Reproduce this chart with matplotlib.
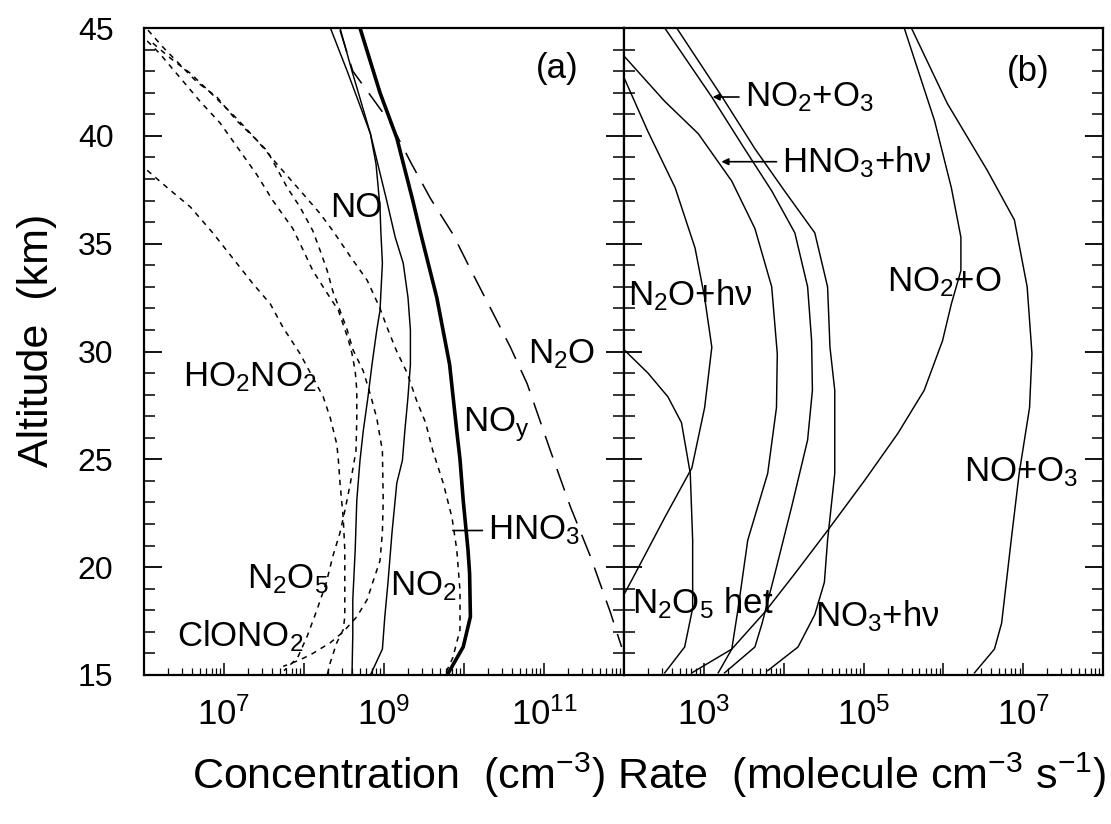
import numpy as np
import matplotlib
matplotlib.use('Agg')
import matplotlib.pyplot as plt
from matplotlib import font_manager
from matplotlib.ticker import LogLocator, MultipleLocator, NullFormatter

# %% data: altitude (km) and log10 of the value
# panel (a) concentrations, log10(cm-3)
noy_alt = [45, 42, 39.9, 37, 35.6, 32.5, 29.4, 26.3, 25, 23.1, 20.8, 19.7, 17.7, 16.3, 15]
noy_log = [8.70, 8.95, 9.16, 9.36, 9.45, 9.66, 9.82, 9.91, 9.95, 9.99, 10.05, 10.07, 10.08, 9.99, 9.79]

no_alt = [45, 43, 40.1, 38.7, 36.7, 35.6, 34.1, 31.9, 31.0, 29.4, 27.9, 26.3, 24.95, 23.1, 20.8, 18.5, 16.9, 15.0]
no_log = [8.45, 8.60, 8.83, 8.90, 8.95, 8.96, 8.98, 8.95, 8.91, 8.85, 8.80, 8.74, 8.70, 8.66, 8.64, 8.61, 8.61, 8.60]

no2_alt = [45, 43, 40.1, 36.9, 35.3, 34.1, 32.5, 31.0, 29.4, 27.9, 26.3, 24.95, 23.9, 21.6, 19.3, 17.7, 16.2, 15.0]
no2_log = [8.33, 8.54, 8.83, 9.04, 9.14, 9.24, 9.30, 9.33, 9.33, 9.30, 9.26, 9.23, 9.16, 9.10, 9.05, 9.01, 8.98, 8.83]

n2o_alt = [44.9, 43.0, 40.6, 38.8, 37.1, 35.45, 33.6, 31.8, 30.2, 28.5, 25.4, 22.8, 20.5, 17.9, 16.3]
n2o_log = [8.45, 8.61, 9.08, 9.33, 9.58, 9.86, 10.11, 10.36, 10.58, 10.79, 11.08, 11.33, 11.58, 11.83, 11.97]

hno3_alt = [44.9, 44.1, 43.3, 42.5, 41.8, 40.7, 39.8, 38.7, 37.3, 36.4, 35.6, 34.4, 33.3, 32.0, 31.1,
            30.0, 29.0, 27.7, 26.7, 25.4, 23.9, 22.3, 20.8, 18.9, 17.1, 15.8, 15.0]
hno3_log = [6.05, 6.24, 6.45, 6.66, 6.91, 7.16, 7.41, 7.66, 7.99, 8.20, 8.36, 8.58, 8.79, 8.95, 9.04,
            9.16, 9.29, 9.41, 9.52, 9.61, 9.74, 9.85, 9.91, 9.95, 9.95, 9.86, 9.76]

n2o5_alt = [44.4, 43.8, 42.7, 41.6, 40.6, 39.3, 38.2, 37.0, 35.7, 34.7, 33.75, 32.7, 31.9, 30.6,
            29.9, 29.1, 28.2, 26.9, 25.4, 23.9, 22.6, 21.6, 20.5, 19.3, 18.0, 16.8, 15.8, 15.2]
n2o5_log = [6.04, 6.20, 6.45, 6.70, 6.95, 7.20, 7.41, 7.61, 7.86, 7.99, 8.11, 8.29, 8.43, 8.55,
            8.60, 8.64, 8.66, 8.66, 8.65, 8.58, 8.51, 8.45, 8.36, 8.28, 8.16, 8.04, 7.92, 7.75]

clono2_alt = [44.3, 43.6, 42.9, 41.9, 40.8, 39.8, 39.3, 38.5, 37.6, 36.7, 35.6, 34.7, 33.75, 32.8, 31.9, 31.0,
              30.1, 29.1, 28.0, 26.9, 25.4, 23.1, 21.6, 20.3, 19.3, 18.5, 17.7, 17.0, 16.5, 16.0, 15.7, 15.4]
clono2_log = [6.11, 6.33, 6.58, 6.86, 7.16, 7.41, 7.54, 7.66, 7.79, 7.95, 8.11, 8.20, 8.29, 8.36, 8.45, 8.54,
              8.61, 8.74, 8.83, 8.91, 8.98, 8.99, 8.98, 8.95, 8.86, 8.79, 8.66, 8.49, 8.33, 8.11, 7.95, 7.74]

ho2no2_alt = [38.4, 37.6, 36.7, 35.5, 33.15, 32.2, 31.1, 29.9, 28.8, 27.9, 26.9, 25.7, 24.95, 23.9,
              22.3, 20.8, 19.3, 17.7, 17.1, 16.5, 15.6, 15.0]
ho2no2_log = [6.04, 6.29, 6.58, 6.86, 7.36, 7.58, 7.74, 7.95, 8.11, 8.24, 8.33, 8.41, 8.43, 8.45,
              8.49, 8.51, 8.51, 8.51, 8.49, 8.41, 8.33, 8.29]

# panel (b) rates, log10(molecule cm-3 s-1)
no2o3_alt = [45, 41.8, 39.4, 37.45, 35.5, 33.0, 30.5, 28.2, 25.9, 22.8, 19.7, 17.4, 16.3, 15.1]
no2o3_log = [2.51, 3.10, 3.51, 3.85, 4.14, 4.30, 4.35, 4.36, 4.30, 4.10, 3.89, 3.73, 3.64, 3.26]

no3hv_alt = [45, 41.8, 39.4, 37.45, 35.5, 33.0, 30.2, 28.2, 24.35, 21.25, 19.3, 17.8, 16.3, 15.2]
no3hv_log = [2.66, 3.23, 3.64, 4.01, 4.39, 4.55, 4.58, 4.64, 4.64, 4.55, 4.51, 4.39, 4.18, 3.80]

hno3hv_alt = [43.7, 41.6, 40.1, 37.9, 35.7, 33.0, 29.9, 27.4, 24.35, 21.25, 18.1, 16.2, 15.1]
hno3hv_log = [2.00, 2.51, 2.93, 3.35, 3.64, 3.85, 3.92, 3.91, 3.80, 3.55, 3.43, 3.35, 3.18]

n2ohv_alt = [42.7, 40.2, 37.6, 34.8, 32.5, 30.2, 27.4, 24.6, 22.3, 19.7, 18.8]
n2ohv_log = [2.00, 2.30, 2.64, 2.89, 3.01, 3.10, 3.01, 2.85, 2.51, 2.14, 2.01]

n2o5het_alt = [30.05, 29.0, 27.9, 26.7, 24.35, 21.25, 18.1, 16.3, 15.1]
n2o5het_log = [2.01, 2.30, 2.55, 2.72, 2.83, 2.86, 2.86, 2.76, 2.51]

no2o_alt = [45, 40.7, 37.6, 35.3, 33.75, 32.2, 30.5, 28.2, 26.2, 24.0, 21.7, 19.7, 17.9, 16.2, 15.1]
no2o_log = [5.51, 5.89, 6.10, 6.22, 6.22, 6.10, 5.99, 5.76, 5.43, 5.01, 4.55, 4.14, 3.76, 3.35, 2.85]

noo3_alt = [45, 41.5, 38.4, 36.1, 33.0, 29.9, 27.4, 24.35, 21.25, 17.4, 16.2, 15.1]
noo3_log = [5.60, 6.05, 6.55, 6.89, 7.05, 7.11, 7.08, 6.95, 6.85, 6.73, 6.64, 6.39]

# labelled decades on the x axes
conc_ticklabels = [7, 9, 11]
rate_ticklabels = [3, 5, 7]

# %% fonts
names = {f.name for f in font_manager.fontManager.ttflist}
narrow = 'Liberation Sans Narrow' if 'Liberation Sans Narrow' in names else 'Liberation Sans'
plt.rcParams['font.family'] = ['Liberation Sans', 'DejaVu Sans']
plt.rcParams['mathtext.fontset'] = 'custom'
plt.rcParams['mathtext.rm'] = 'Liberation Sans'
plt.rcParams['mathtext.it'] = 'Liberation Sans:italic'
plt.rcParams['mathtext.default'] = 'regular'


def p(vals):
    return 10 ** np.array(vals)


fig = plt.figure(figsize=(11.11, 8.24), dpi=100)
W, H = 1111, 824
ax1 = fig.add_axes([144 / W, 1 - 675 / H, 480 / W, 647 / H])
ax2 = fig.add_axes([624 / W, 1 - 675 / H, 479 / W, 647 / H])

thin = dict(color='k', lw=1.05)
dot = dict(color='k', lw=1.1, ls=(0, (3.5, 3.5)))

# %% panel (a)
ax1.plot(p(noy_log), noy_alt, color='k', lw=2.6)
ax1.plot(p(no_log), no_alt, **thin)
ax1.plot(p(no2_log), no2_alt, **thin)
ax1.plot(p(n2o_log), n2o_alt, color='k', lw=1.1, ls=(0, (15, 8)))
for lg, al in [(hno3_log, hno3_alt), (n2o5_log, n2o5_alt), (clono2_log, clono2_alt), (ho2no2_log, ho2no2_alt)]:
    ax1.plot(p(lg), al, **dot)

fs = 25
ax1.text(10**11.16, 43.1, '(a)', fontsize=fs, ha='center', va='center')
ax1.text(10**8.33, 36.7, 'NO', fontsize=fs, va='center')
ax1.text(10**6.49, 28.8, 'HO$_2$NO$_2$', fontsize=fs, va='center')
ax1.text(10**7.29, 19.45, 'N$_2$O$_5$', fontsize=fs, va='center')
ax1.text(10**6.41, 16.8, 'ClONO$_2$', fontsize=fs, va='center')
ax1.text(10**9.08, 19.1, 'NO$_2$', fontsize=fs, va='center')
ax1.text(10**9.99, 26.6, 'NO$_y$', fontsize=fs, va='center')
ax1.text(10**10.8, 29.9, 'N$_2$O', fontsize=fs, va='center')
ax1.annotate('HNO$_3$', xy=(10**9.86, 21.7), xytext=(10**10.3, 21.7), fontsize=fs, va='center',
             arrowprops=dict(arrowstyle='-', color='k', lw=1.2, shrinkA=2, shrinkB=0))

# %% panel (b)
for lg, al in [(no2o3_log, no2o3_alt), (no3hv_log, no3hv_alt), (hno3hv_log, hno3hv_alt),
               (n2ohv_log, n2ohv_alt), (n2o5het_log, n2o5het_alt), (no2o_log, no2o_alt),
               (noo3_log, noo3_alt)]:
    ax2.plot(p(lg), al, **thin)

arrow = dict(arrowstyle='-|>', color='k', lw=1.2, mutation_scale=10, shrinkA=2, shrinkB=0)
ax2.text(10**7.06, 43.0, '(b)', fontsize=fs, ha='center', va='center')
ax2.annotate('NO$_2$+O$_3$', xy=(10**3.11, 41.8), xytext=(10**3.51, 41.8), fontsize=fs, va='center',
             arrowprops=arrow)
ax2.annotate('HNO$_3$+hν', xy=(10**3.22, 38.8), xytext=(10**3.98, 38.8), fontsize=fs, va='center',
             arrowprops=arrow)
ax2.text(10**2.05, 32.6, 'N$_2$O+hν', fontsize=fs, va='center')
ax2.text(10**5.3, 33.2, 'NO$_2$+O', fontsize=fs, va='center')
ax2.text(10**6.26, 24.4, 'NO+O$_3$', fontsize=fs, va='center')
ax2.text(10**2.1, 18.35, 'N$_2$O$_5$ het', fontsize=fs, va='center')
ax2.text(10**4.39, 17.75, 'NO$_3$+hν', fontsize=fs, va='center')

# %% axes
ax1.set_xscale('log')
ax2.set_xscale('log')
ax1.set_xlim(1e6, 1e12)
ax2.set_xlim(1e2, 1e8)
for ax, labs in ((ax1, conc_ticklabels), (ax2, rate_ticklabels)):
    ax.set_ylim(15, 45)
    ax.yaxis.set_major_locator(MultipleLocator(5))
    ax.yaxis.set_minor_locator(MultipleLocator(1))
    ax.xaxis.set_major_locator(LogLocator(base=10, numticks=15))
    ax.xaxis.set_minor_locator(LogLocator(base=10, subs=np.arange(2, 10), numticks=15))
    ax.xaxis.set_major_formatter(NullFormatter())
    ax.xaxis.set_minor_formatter(NullFormatter())
    ax.tick_params(which='both', direction='in', left=True, right=True, top=False, bottom=True)
    ax.tick_params(axis='y', which='major', length=13, width=1.3)
    ax.tick_params(axis='y', which='minor', length=8, width=1.1)
    ax.tick_params(axis='x', which='major', length=9, width=1.1)
    ax.tick_params(axis='x', which='minor', length=5, width=0.9)
    for s in ax.spines.values():
        s.set_linewidth(1.6)
    # only every other decade carries a label
    for e in labs:
        ax.text(10.0**e, -0.035, f'10$^{{{e}}}$', transform=ax.get_xaxis_transform(),
                fontsize=25, family=narrow, ha='center', va='top')

ax1.tick_params(axis='y', labelsize=23, pad=22)
ax2.tick_params(axis='y', labelleft=False)

fig.text(37 / W, 1 - 340 / H, 'Altitude  (km)', rotation=90, fontsize=31, ha='center', va='center')
fig.text(398 / W, 1 - 775 / H, 'Concentration  (cm$^{-3}$)', fontsize=31, ha='center', va='center', family=narrow)
fig.text(862 / W, 1 - 775 / H, 'Rate  (molecule cm$^{-3}$ s$^{-1}$)', fontsize=31, ha='center', va='center', family=narrow)

fig.savefig('out.png', dpi=100)
